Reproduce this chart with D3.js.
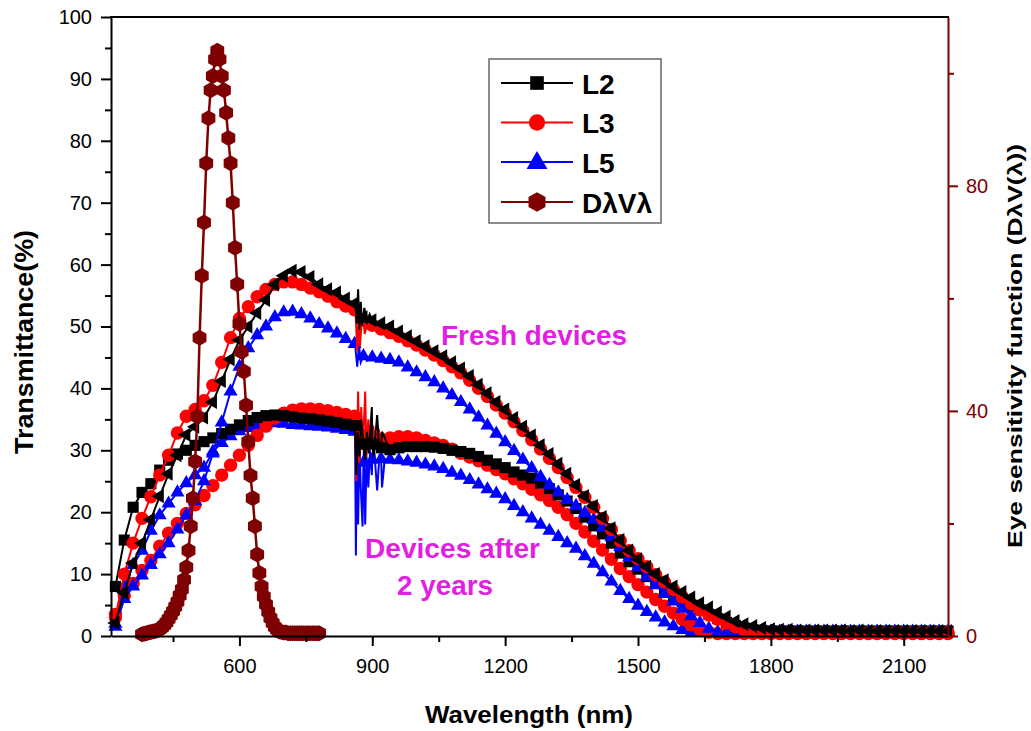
<!DOCTYPE html>
<html><head><meta charset="utf-8">
<script src="https://cdn.jsdelivr.net/npm/d3@7"></script>
<style>body{margin:0;background:#fff}svg{display:block}</style>
</head><body><svg id="c" width="1031" height="731"></svg>
<script>
// ---------- DATA ----------
const wavelengths = [
 320,340,360,380,400,420,440,460,480,500,
 520,540,560,580,600,620,640,660,680,700,
 720,740,760,780,800,820,840,860,880,900,
 920,940,960,980,1000,1020,1040,1060,1080,1100,
 1120,1140,1160,1180,1200,1220,1240,1260,1280,1300,
 1320,1340,1360,1380,1400,1420,1440,1460,1480,1500,
 1520,1540,1560,1580,1600,1620,1640,1660,1680,1700,
 1720,1740,1760,1780,1800,1820,1840,1860,1880,1900,
 1920,1940,1960,1980,2000,2020,2040,2060,2080,2100,
 2120,2140,2160,2180,2200];

// Fresh devices
const freshL2 = [
 2.1,7.0,11.8,15.0,18.8,22.6,26.2,29.2,32.5,33.8,
 35.3,37.8,41.2,44.7,47.8,50.0,52.2,54.3,56.8,58.2,
 59.0,58.8,58.0,56.8,56.0,55.5,54.5,53.7,51.5,51.0,
 50.5,50.0,49.2,48.4,47.6,46.8,46.0,45.2,44.2,43.2,
 42.0,40.6,39.2,37.8,36.6,35.2,33.8,32.4,30.8,29.4,
 27.8,26.2,24.4,22.6,21.0,19.2,17.4,15.5,13.8,12.4,
 11.2,10.0,9.0,8.0,7.1,6.2,5.3,4.6,3.8,3.1,
 2.4,1.9,1.6,1.3,1.1,1.0,1.0,0.9,0.9,0.9,
 0.9,0.9,0.9,0.8,0.9,0.8,0.8,0.8,0.8,0.8,
 0.8,0.8,0.8,0.8,0.8];
const freshL3 = [
 3.0,10.0,15.0,19.0,22.5,26.0,29.2,32.8,35.5,36.6,
 38.0,40.5,44.2,48.2,51.3,53.2,54.8,56.0,56.8,57.2,
 57.2,56.8,56.2,55.6,54.9,54.0,53.3,52.7,51.0,50.2,
 49.6,49.0,48.4,47.7,47.0,46.2,45.4,44.5,43.5,42.5,
 41.3,40.0,38.7,37.3,36.0,34.6,33.2,31.7,30.2,28.7,
 27.2,25.6,24.0,22.4,20.8,19.0,17.2,15.4,13.8,12.5,
 11.2,9.9,8.7,7.5,6.3,5.2,4.2,3.4,2.7,2.1,
 1.5,1.0,0.8,0.6,0.6,0.5,0.5,0.5,0.5,0.5,
 0.5,0.5,0.5,0.5,0.5,0.5,0.5,0.5,0.5,0.5,
 0.5,0.5,0.5,0.5,0.5];
const freshL5 = [
 1.5,6.0,8.0,9.8,11.5,13.2,15.0,17.2,19.5,21.8,
 25.0,29.5,34.5,39.5,43.5,46.5,48.6,50.0,51.5,52.3,
 52.4,52.0,51.3,50.4,49.7,48.9,48.0,47.2,45.2,45.0,
 44.8,44.6,44.2,43.4,42.6,41.8,41.0,40.0,38.9,37.8,
 36.6,35.3,34.0,32.7,31.3,29.9,28.5,27.1,25.7,24.4,
 23.2,22.0,21.0,19.9,18.8,17.5,16.0,14.4,12.7,11.1,
 9.6,8.2,6.8,5.6,4.4,3.2,2.1,1.2,0.6,0.5,
 0.7,0.7,0.7,0.7,0.7,0.7,0.7,0.7,0.7,0.7,
 0.7,0.7,0.7,0.7,0.7,0.7,0.7,0.7,0.7,0.7,
 0.7,0.7,0.7,0.7,0.7];

// Devices after 2 years
const agedL2 = [
 8.0,15.5,20.8,23.2,24.6,26.8,28.4,29.4,30.0,30.8,
 31.4,32.0,32.7,33.4,34.1,34.8,35.3,35.6,35.7,35.6,
 35.4,35.2,35.1,34.9,34.7,34.5,34.2,34.0,31.0,31.0,
 30.4,30.1,30.4,30.6,30.6,30.6,30.5,30.3,30.0,29.8,
 29.5,29.0,28.4,27.8,27.2,26.5,26.0,25.5,24.7,23.8,
 22.8,21.8,20.6,19.2,17.8,16.5,15.0,13.4,12.0,10.8,
 9.6,8.5,7.4,6.4,5.5,4.8,4.2,3.5,2.8,2.2,
 1.7,1.3,1.0,0.9,0.8,0.8,0.8,0.8,0.8,0.8,
 0.8,0.8,0.8,0.8,0.8,0.8,0.8,0.8,0.8,0.8,
 0.8,0.8,0.8,0.8,0.8];
const agedL3 = [
 3.5,6.5,8.5,10.6,12.2,14.5,16.6,18.2,19.8,21.2,
 22.7,24.3,26.0,27.6,29.2,30.8,32.4,33.9,35.2,36.0,
 36.5,36.7,36.7,36.6,36.4,36.1,35.8,35.5,32.5,32.0,
 31.8,32.0,32.2,32.2,32.0,31.6,31.2,30.8,30.2,29.5,
 28.9,28.3,27.6,26.9,26.2,25.4,24.6,23.7,22.8,21.9,
 20.8,19.6,18.2,16.8,15.3,13.9,12.4,10.9,9.6,8.3,
 7.1,5.9,4.8,3.7,2.7,1.8,1.1,0.6,0.4,0.4,
 0.4,0.4,0.4,0.4,0.4,0.4,0.4,0.4,0.4,0.4,
 0.4,0.4,0.4,0.4,0.4,0.4,0.4,0.4,0.4,0.4,
 0.4,0.4,0.4,0.4,0.4];
const agedL5 = [
 2.0,8.0,11.5,13.8,17.0,19.5,21.4,23.2,24.7,26.0,
 27.2,29.8,31.2,32.3,33.1,33.6,34.0,34.3,34.4,34.3,
 34.1,34.0,33.9,33.8,33.7,33.5,33.3,33.0,28.0,28.5,
 28.6,28.5,28.4,28.2,28.0,27.7,27.4,27.0,26.4,25.9,
 25.2,24.5,23.7,23.0,22.1,21.0,20.0,19.0,18.0,17.0,
 16.0,15.0,14.1,12.9,11.7,10.3,8.8,7.3,6.0,4.9,
 3.9,3.0,2.2,1.6,1.0,0.5,0.5,0.5,0.5,0.5,
 0.6,0.6,0.6,0.6,0.6,0.6,0.6,0.6,0.6,0.6,
 0.6,0.6,0.6,0.6,0.6,0.6,0.6,0.6,0.6,0.6,
 0.6,0.6,0.6,0.6,0.6];

// detector-change noise near 860-930 nm (line only) : [wavelength, value]
const glitchFreshL2 = [[862,53.5],[865,50.5],[868,56],[871,49.5],[874,54],[877,50.2],[882,53],[888,50.8],[894,52]];
const glitchFreshL3 = [[862,52.5],[866,46],[869,51.5],[872,46.8],[876,50.5],[883,48.8],[890,51]];
const glitchFreshL5 = [[862,46.5],[866,43.5],[870,47],[874,44.2],[880,46],[888,44.5]];
const glitchAgedL2 = [[861,34],[864,26],[867,33],[871,29],[875,35],[884,28.5],[888,33],[892,29.5],[899,37],[903,29],[911,35.7],[916,30],[922,33]];
const glitchAgedL3 = [[861,35.4],[864,25],[868,39.5],[871,28],[875,37],[879,30],[884,39.5],[887,29],[891,35],[896,30.5],[902,34],[908,31],[914,33.5]];
const glitchAgedL5 = [[861,33],[863,13],[865,30],[868,18],[871,31],[874,24],[878,17.7],[881,30],[884,18],[887,29],[891,24],[895,30],[899,26],[905,29.5],[911,23.5],[916,29],[922,24],[928,28.5]];

// Eye sensitivity function D(lambda)V(lambda), right axis
const dWavelengths = [
 380,385,390,395,400,405,410,415,420,425,
 430,435,440,445,450,455,460,465,470,475,
 480,485,490,495,500,505,510,515,520,525,
 530,535,540,545,550,555,560,565,570,575,
 580,585,590,595,600,605,610,615,620,625,
 630,635,640,645,650,655,660,665,670,675,
 680,685,690,695,700,705,710,715,720,725,
 730,735,740,745,750,755,760,765,770,775,
 780];
const dLambdaVLambda = [
 0.3,0.4,0.5,0.6,0.7,0.8,0.9,1.0,1.2,1.5,
 1.9,2.4,3.0,3.7,4.4,5.2,6.1,7.2,8.3,10.0,
 12.2,15.2,19.5,24.5,31.0,39.0,53.0,64.0,73.5,84.0,
 92.0,97.0,99.5,102.5,104.0,102.5,99.5,97.0,93.0,88.5,
 84.0,77.0,69.0,62.5,55.5,50.5,47.0,41.0,34.5,28.5,
 24.5,19.5,14.5,11.2,8.8,7.0,5.6,4.3,3.2,2.3,
 1.6,1.1,0.8,0.7,0.6,0.6,0.5,0.5,0.5,0.5,
 0.5,0.5,0.5,0.5,0.5,0.5,0.5,0.5,0.5,0.5,
 0.5];

const xTicks = [600, 900, 1200, 1500, 1800, 2100];
const xMinorTicks = [450, 750, 1050, 1350, 1650, 1950];
const yTicks = [0, 10, 20, 30, 40, 50, 60, 70, 80, 90, 100];
const yMinorTicks = [5, 15, 25, 35, 45, 55, 65, 75, 85, 95];
const y2Ticks = [0, 40, 80];
const y2MinorTicks = [20, 60, 100];
const legendLabels = ["L2", "L3", "L5", "DλVλ"];

// ---------- CHART ----------
const FONT = "'Liberation Sans', Arial, Helvetica, sans-serif";
const BLACK = "#000000", RED = "#ff0000", BLUE = "#0000ff", DRED = "#7f0000", MAG = "#e31ee3";

const svg = d3.select("#c");
const x = d3.scaleLinear().domain([310, 2200]).range([111, 948]);
const y = d3.scaleLinear().domain([0, 100]).range([636, 17]);
const y2 = d3.scaleLinear().domain([0, 110]).range([636, 17]);

function hexPath(r) {
  const pts = d3.range(6).map(k => {
    const a = (-90 + 60 * k) * Math.PI / 180;
    return [r * Math.cos(a), r * Math.sin(a)];
  });
  return "M" + pts.map(p => p.join(",")).join("L") + "Z";
}
function markerPath(kind, scale) {
  scale = scale || 1;
  if (kind === "square") return d3.symbol().type(d3.symbolSquare).size(124 * scale)();
  if (kind === "circle") return d3.symbol().type(d3.symbolCircle).size(140 * scale)();
  if (kind === "triangle" || kind === "ltriangle") return d3.symbol().type(d3.symbolTriangle).size(86 * scale)();
  if (kind === "hex") return hexPath(8 * Math.sqrt(scale));
}

const series = [
  {vals: agedL5, glitch: glitchAgedL5, color: BLUE, kind: "triangle"},
  {vals: agedL3, glitch: glitchAgedL3, color: RED, kind: "circle"},
  {vals: agedL2, glitch: glitchAgedL2, color: BLACK, kind: "square"},
  {vals: freshL5, glitch: glitchFreshL5, color: BLUE, kind: "triangle"},
  {vals: freshL3, glitch: glitchFreshL3, color: RED, kind: "circle"},
  {vals: freshL2, glitch: glitchFreshL2, color: BLACK, kind: "ltriangle"}
];

const line = d3.line().x(d => x(d[0])).y(d => y(d[1]));
const plot = svg.append("g");

series.forEach(s => {
  const pts = wavelengths.map((w, i) => [w, s.vals[i]]);
  const lp = pts.concat(s.glitch).sort((a, b) => a[0] - b[0]);
  plot.append("path").attr("d", line(lp)).attr("fill", "none")
    .attr("stroke", s.color).attr("stroke-width", 2);
  plot.append("g").selectAll("path").data(pts).join("path")
    .attr("d", markerPath(s.kind))
    .attr("transform", d => `translate(${x(d[0])},${y(d[1])})` + (s.kind === "ltriangle" ? " rotate(-90)" : ""))
    .attr("fill", s.color);
});

// D lambda V lambda on right axis
const dPts = dWavelengths.map((w, i) => [w, dLambdaVLambda[i]]);
const line2 = d3.line().x(d => x(d[0])).y(d => y2(d[1]));
plot.append("path").attr("d", line2(dPts)).attr("fill", "none")
  .attr("stroke", DRED).attr("stroke-width", 2.5);
plot.append("g").selectAll("path").data(dPts).join("path")
  .attr("d", markerPath("hex"))
  .attr("transform", d => `translate(${x(d[0])},${y2(d[1])})`)
  .attr("fill", DRED);

// ---------- AXES ----------
function styleAxis(g, color) {
  g.selectAll("path.domain").attr("stroke", color).attr("stroke-width", 2);
  g.selectAll(".tick line").attr("stroke", color).attr("stroke-width", 2);
  g.selectAll(".tick text").attr("fill", color).attr("font-family", FONT).attr("font-size", 20);
}
// bottom
const gx = svg.append("g").attr("transform", "translate(0,636)")
  .call(d3.axisBottom(x).tickValues(xTicks).tickSize(10).tickPadding(13).tickFormat(d3.format("d")).tickSizeOuter(0));
styleAxis(gx, BLACK);
const gxm = svg.append("g").attr("transform", "translate(0,636)")
  .call(d3.axisBottom(x).tickValues(xMinorTicks).tickSize(6).tickFormat("").tickSizeOuter(0));
styleAxis(gxm, BLACK); gxm.select("path.domain").remove();
// left
const gy = svg.append("g").attr("transform", "translate(111,0)")
  .call(d3.axisLeft(y).tickValues(yTicks).tickSize(10).tickPadding(9).tickSizeOuter(0));
styleAxis(gy, BLACK);
const gym = svg.append("g").attr("transform", "translate(111,0)")
  .call(d3.axisLeft(y).tickValues(yMinorTicks).tickSize(6).tickFormat("").tickSizeOuter(0));
styleAxis(gym, BLACK); gym.select("path.domain").remove();
// right
const gy2 = svg.append("g").attr("transform", "translate(948,0)")
  .call(d3.axisRight(y2).tickValues(y2Ticks).tickSize(10).tickPadding(8).tickSizeOuter(0));
styleAxis(gy2, DRED);
const gy2m = svg.append("g").attr("transform", "translate(948,0)")
  .call(d3.axisRight(y2).tickValues(y2MinorTicks).tickSize(6).tickFormat("").tickSizeOuter(0));
styleAxis(gy2m, DRED); gy2m.select("path.domain").remove();
// top frame
svg.append("line").attr("x1", 110).attr("x2", 949).attr("y1", 17).attr("y2", 17)
  .attr("stroke", BLACK).attr("stroke-width", 2);

// ---------- TITLES ----------
svg.append("text").attr("x", 529).attr("y", 723).attr("text-anchor", "middle")
  .attr("font-family", FONT).attr("font-weight", "bold").attr("font-size", 24)
  .attr("textLength", 208).attr("lengthAdjust", "spacingAndGlyphs")
  .text("Wavelength (nm)");
svg.append("text").attr("transform", "translate(33,342) rotate(-90)").attr("text-anchor", "middle")
  .attr("font-family", FONT).attr("font-weight", "bold").attr("font-size", 25)
  .attr("textLength", 224).attr("lengthAdjust", "spacingAndGlyphs")
  .text("Transmittance(%)");
svg.append("text").attr("transform", "translate(1022,346) rotate(-90)").attr("text-anchor", "middle")
  .attr("font-family", FONT).attr("font-weight", "bold").attr("font-size", 21)
  .attr("textLength", 404).attr("lengthAdjust", "spacingAndGlyphs")
  .text("Eye sensitivity function (DλV(λ))");

// annotations
svg.append("text").attr("x", 441).attr("y", 345).attr("font-family", FONT).attr("font-weight", "bold")
  .attr("font-size", 27).attr("fill", MAG).attr("textLength", 186).attr("lengthAdjust", "spacingAndGlyphs")
  .text("Fresh devices");
svg.append("text").attr("x", 365).attr("y", 558).attr("font-family", FONT).attr("font-weight", "bold")
  .attr("font-size", 27).attr("fill", MAG).attr("textLength", 175).attr("lengthAdjust", "spacingAndGlyphs")
  .text("Devices after");
svg.append("text").attr("x", 397).attr("y", 595).attr("font-family", FONT).attr("font-weight", "bold")
  .attr("font-size", 27).attr("fill", MAG).attr("textLength", 96).attr("lengthAdjust", "spacingAndGlyphs")
  .text("2 years");

// ---------- LEGEND ----------
const leg = svg.append("g");
leg.append("rect").attr("x", 489).attr("y", 59).attr("width", 172).attr("height", 164)
  .attr("fill", "#fff").attr("stroke", "#666").attr("stroke-width", 1.5);
const legItems = [
  {label: legendLabels[0], color: BLACK, kind: "square"},
  {label: legendLabels[1], color: RED, kind: "circle"},
  {label: legendLabels[2], color: BLUE, kind: "triangle"},
  {label: legendLabels[3], color: DRED, kind: "hex"}
];
const legY = [83, 122.5, 162, 202];
legItems.forEach((it, i) => {
  const cy = legY[i];
  leg.append("line").attr("x1", 501).attr("x2", 573).attr("y1", cy).attr("y2", cy)
    .attr("stroke", it.color).attr("stroke-width", 2);
  leg.append("path").attr("d", markerPath(it.kind, it.kind === "triangle" ? 2.2 : 1.5))
    .attr("transform", `translate(537,${cy + (it.kind === "triangle" ? 1 : 0)})`).attr("fill", it.color);
  leg.append("text").attr("x", 582).attr("y", cy + 10.5).attr("font-family", FONT)
    .attr("font-weight", "bold").attr("font-size", 28).text(it.label);
});
</script></body></html>
